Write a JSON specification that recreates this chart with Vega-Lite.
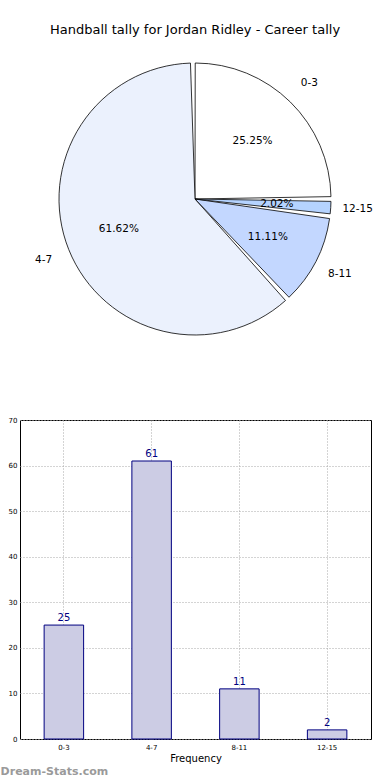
{
  "$schema": "https://vega.github.io/schema/vega-lite/v6.json",
  "padding": {"top": 24, "left": 0, "right": 0, "bottom": 0},
  "background": "white",
  "config": {"font": "DejaVu Sans"},
  "title": {"text": "Dream-Stats.com", "orient": "bottom", "anchor": "start", "frame": "bounds", "dx": -7, "fontSize": 11, "fontWeight": "bold", "color": "#9a9a9a", "offset": 2},
  "data": {"values": [
    {"range": "0-3", "count": 25},
    {"range": "4-7", "count": 61},
    {"range": "8-11", "count": 11},
    {"range": "12-15", "count": 2}
  ]},
  "spacing": 64,
  "vconcat": [
    {
      "width": 350,
      "height": 304,
      "view": {"stroke": null},
      "title": {"text": "Handball tally for Jordan Ridley - Career tally", "fontSize": 13, "fontWeight": "normal", "color": "black", "offset": 10},
      "transform": [
        {"window": [{"op": "row_number", "as": "idx"}]},
        {"joinaggregate": [{"op": "sum", "field": "count", "as": "total"}]},
        {"calculate": "format(datum.count / datum.total, '.2%')", "as": "pct"}
      ],
      "encoding": {
        "theta": {"field": "count", "type": "quantitative", "stack": true, "scale": {"range": [1.5707963, -4.712389]}},
        "order": {"field": "idx", "type": "quantitative"}
      },
      "layer": [
        {
          "mark": {"type": "arc", "outerRadius": 136, "stroke": "black", "strokeWidth": 0.8, "padAngle": 0.035},
          "encoding": {
            "color": {"field": "range", "type": "nominal", "legend": null, "scale": {"domain": ["0-3", "4-7", "8-11", "12-15"], "range": ["#ffffff", "#ebf1fd", "#c3d7ff", "#b5d3ff"]}}
          }
        },
        {
          "mark": {"type": "text", "radius": 82, "fontSize": 10.5, "color": "black"},
          "encoding": {"text": {"field": "pct", "type": "nominal"}}
        },
        {
          "mark": {"type": "text", "radius": 163, "fontSize": 10.5, "color": "black"},
          "encoding": {"text": {"field": "range", "type": "nominal"}}
        }
      ]
    },
    {
      "width": 351,
      "height": 319,
      "view": {"stroke": "black", "strokeWidth": 1},
      "encoding": {
        "x": {"field": "range", "type": "nominal", "sort": ["0-3", "4-7", "8-11", "12-15"],
          "scale": {"paddingInner": 0.55, "paddingOuter": 0.275},
          "axis": {"title": "Frequency", "titleFontSize": 10, "titleFontWeight": "normal", "titleColor": "black", "titlePadding": 3, "labelAngle": 0, "labelFontSize": 7, "labelColor": "black", "labelPadding": 4, "ticks": false, "domain": false, "grid": true, "gridColor": "#a8a8a8", "gridDash": [1, 2], "gridWidth": 1}},
        "y": {"field": "count", "type": "quantitative", "scale": {"domain": [0, 70]},
          "axis": {"title": null, "values": [0, 10, 20, 30, 40, 50, 60, 70], "labelFontSize": 7, "labelColor": "black", "labelPadding": 3, "ticks": false, "domain": false, "grid": true, "gridColor": "#a8a8a8", "gridDash": [1, 2], "gridWidth": 1}}
      },
      "layer": [
        {"mark": {"type": "bar", "fill": "#cccce4", "stroke": "#000080", "strokeWidth": 1}},
        {"mark": {"type": "text", "baseline": "bottom", "dy": -2, "fontSize": 10, "color": "#000080"},
          "encoding": {"text": {"field": "count", "type": "quantitative"}}}
      ]
    }
  ]
}
